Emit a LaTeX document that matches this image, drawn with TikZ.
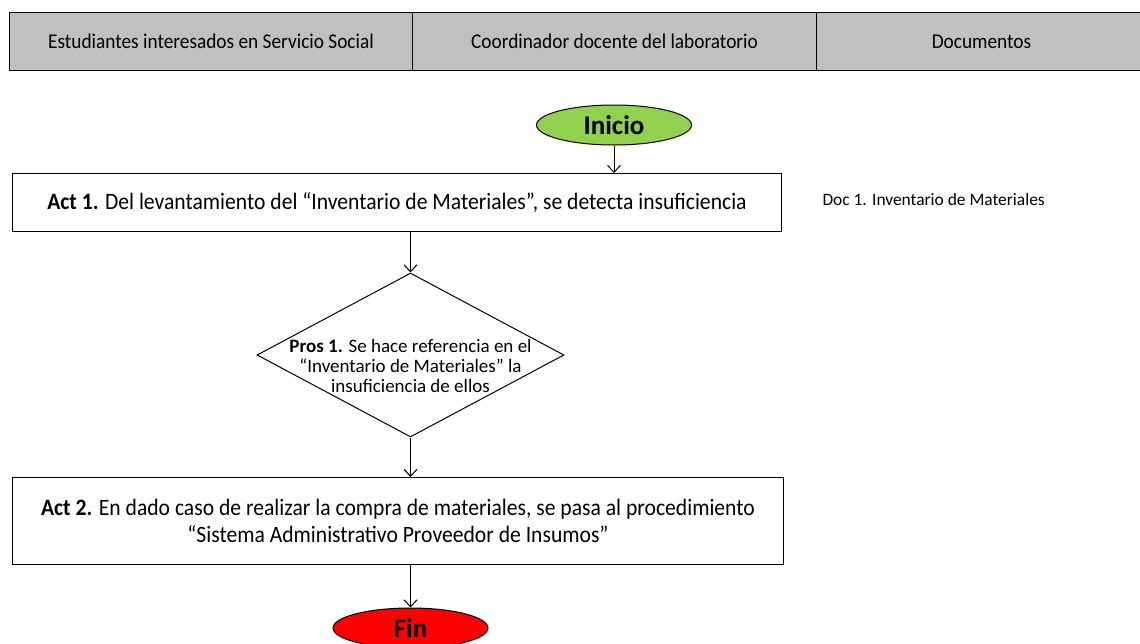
\documentclass[tikz,border=0pt]{standalone}
\usepackage{fontspec}
\setmainfont{Carlito}
\newfontfamily\condfont[FakeStretch=0.92]{Carlito}
\usetikzlibrary{shapes.geometric,arrows.meta}
\definecolor{hdrgray}{HTML}{C0C0C0}
\definecolor{startgreen}{HTML}{92D050}
\definecolor{endred}{HTML}{FF0000}
\begin{document}
\begin{tikzpicture}[x=1pt,y=-1pt,
  line width=1pt,
  hdr/.style={draw, fill=hdrgray, minimum height=58pt, anchor=north west, inner sep=0pt, font=\condfont\fontsize{21}{25}\selectfont},
  actbox/.style={draw, anchor=north west, inner sep=0pt, align=center, font=\condfont\fontsize{23.5}{27}\selectfont},
  term/.style={draw, ellipse, inner sep=0pt, minimum width=155pt, minimum height=40pt, font=\bfseries\fontsize{27}{30}\selectfont},
  decision/.style={draw, diamond, inner sep=0pt},
  dtext/.style={align=center, inner sep=0pt, font=\fontsize{19}{20}\selectfont},
  flow/.style={-{Straight Barb[length=7pt,width=13pt]}, line width=1pt},
  doc/.style={font=\fontsize{17.4}{20}\selectfont, anchor=west, inner sep=0pt}]
\useasboundingbox (0,0) rectangle (1140,643);
\clip (0,0) rectangle (1140,643);
% header lanes
\node[hdr, minimum width=403pt] (h1) at (9,12) {Estudiantes interesados en Servicio Social};
\node[hdr, minimum width=404pt] (h2) at (412,12) {Coordinador docente del laboratorio};
\node[hdr, minimum width=330pt] (h3) at (816,12) {Documentos};
% start
\node[term, fill=startgreen] (ini) at (614,125) {Inicio};
% act 1
\node[actbox, minimum width=769pt, minimum height=58pt] (a1) at (12,173) {\textbf{Act 1.} Del levantamiento del “Inventario de Materiales”, se detecta insuficiencia};
% decision
\node[decision, minimum width=307pt, minimum height=164pt] (p1) at (410.5,355) {};
\node[dtext] (p1t) at (410.5,366) {\textbf{Pros 1.} Se hace referencia en el\\“Inventario de Materiales” la\\insuficiencia de ellos};
% act 2
\node[actbox, minimum width=771pt, minimum height=87pt] (a2) at (12,477) {\textbf{Act 2.} En dado caso de realizar la compra de materiales, se pasa al procedimiento\\“Sistema Administrativo Proveedor de Insumos”};
% end
\node[term, fill=endred] (fin) at (410.5,628) {Fin};
% document
\node[doc] (d1) at (822,200) {Doc 1. Inventario de Materiales};
% connectors
\draw[flow] (ini.south) -- (ini.south |- a1.north);
\draw[flow] (p1.north |- a1.south) -- (p1.north);
\draw[flow] (p1.south) -- (p1.south |- a2.north);
\draw[flow] (fin.north |- a2.south) -- (fin.north);
\end{tikzpicture}
\end{document}
